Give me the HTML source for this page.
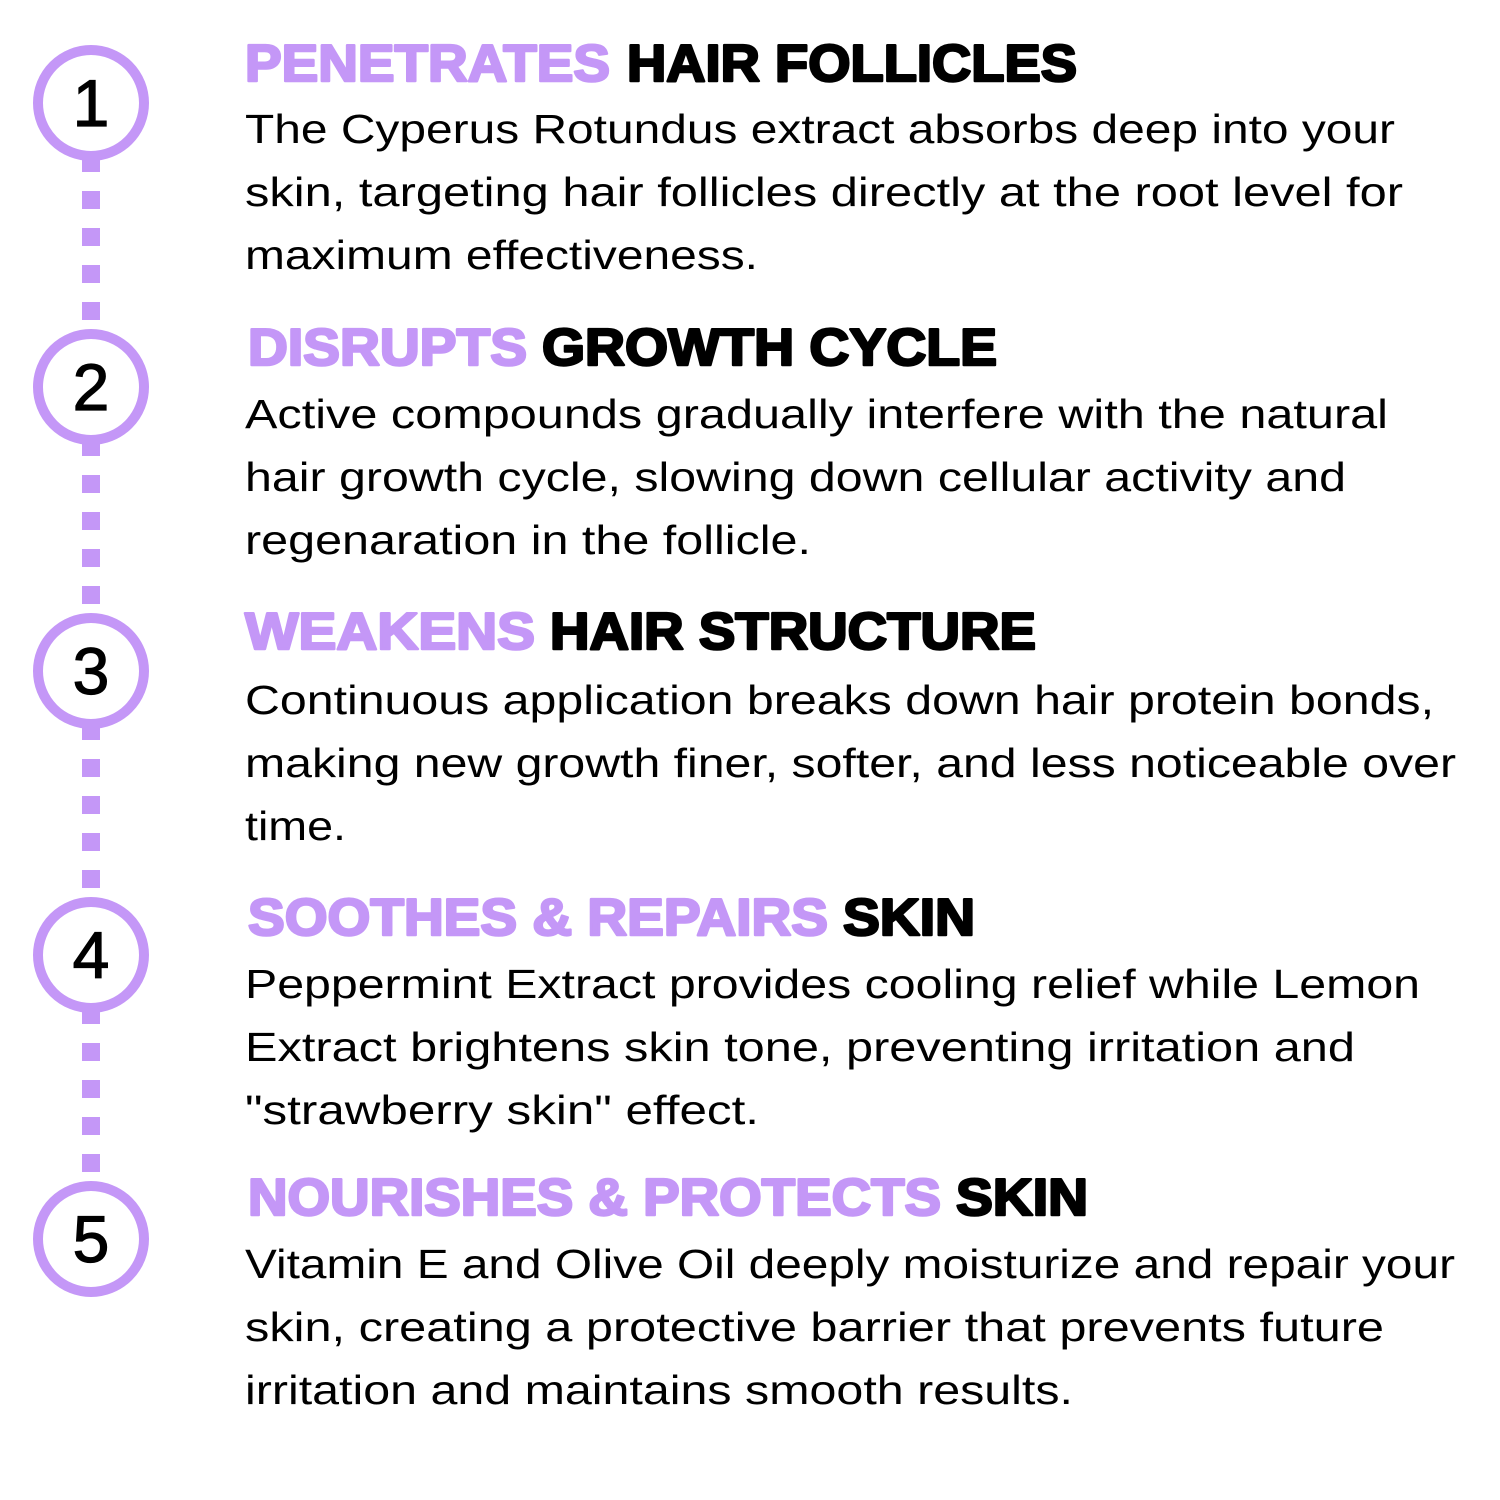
<!DOCTYPE html>
<html><head><meta charset="utf-8"><style>html,body{margin:0;padding:0;background:#fff}svg{display:block}</style></head>
<body>
<svg width="1500" height="1500" viewBox="0 0 1500 1500" xmlns="http://www.w3.org/2000/svg">
<g stroke="#c497f7" stroke-width="18" stroke-dasharray="18 19">
<line x1="91" y1="154" x2="91" y2="330"/>
<line x1="91" y1="438" x2="91" y2="614"/>
<line x1="91" y1="722" x2="91" y2="898"/>
<line x1="91" y1="1006" x2="91" y2="1182"/>
</g>
<g fill="#fff" stroke="#c497f7" stroke-width="10">
<circle cx="91" cy="103" r="53"/><circle cx="91" cy="387" r="53"/><circle cx="91" cy="671" r="53"/><circle cx="91" cy="955" r="53"/><circle cx="91" cy="1239" r="53"/>
</g>
<g font-family="Liberation Sans, sans-serif" font-size="66" text-anchor="middle" fill="#000" stroke="#000" stroke-width="1.2">
<text x="91" y="126">1</text><text x="91" y="410">2</text><text x="91" y="694">3</text><text x="91" y="978">4</text><text x="91" y="1262">5</text>
</g>
<g font-family="Liberation Sans, sans-serif" font-weight="bold" font-size="52" stroke-width="2.5" stroke-linejoin="round">
<text x="245" y="81" textLength="365" lengthAdjust="spacingAndGlyphs" fill="#c497f7" stroke="#c497f7">PENETRATES</text>
<text x="627" y="81" textLength="450" lengthAdjust="spacingAndGlyphs" stroke="#000">HAIR FOLLICLES</text>
<text x="248" y="365" textLength="279" lengthAdjust="spacingAndGlyphs" fill="#c497f7" stroke="#c497f7">DISRUPTS</text>
<text x="542" y="365" textLength="455" lengthAdjust="spacingAndGlyphs" stroke="#000">GROWTH CYCLE</text>
<text x="245" y="649" textLength="290" lengthAdjust="spacingAndGlyphs" fill="#c497f7" stroke="#c497f7">WEAKENS</text>
<text x="550" y="649" textLength="486" lengthAdjust="spacingAndGlyphs" stroke="#000">HAIR STRUCTURE</text>
<text x="248" y="935" textLength="580" lengthAdjust="spacingAndGlyphs" fill="#c497f7" stroke="#c497f7">SOOTHES &amp; REPAIRS</text>
<text x="843" y="935" textLength="132" lengthAdjust="spacingAndGlyphs" stroke="#000">SKIN</text>
<text x="248" y="1215" textLength="693" lengthAdjust="spacingAndGlyphs" fill="#c497f7" stroke="#c497f7">NOURISHES &amp; PROTECTS</text>
<text x="956" y="1215" textLength="132" lengthAdjust="spacingAndGlyphs" stroke="#000">SKIN</text>
</g>
<g font-family="Liberation Sans, sans-serif" font-size="41" fill="#000">
<text x="245" y="143" textLength="1150" lengthAdjust="spacingAndGlyphs">The Cyperus Rotundus extract absorbs deep into your</text>
<text x="245" y="206" textLength="1158" lengthAdjust="spacingAndGlyphs">skin, targeting hair follicles directly at the root level for</text>
<text x="245" y="269" textLength="513" lengthAdjust="spacingAndGlyphs">maximum effectiveness.</text>
<text x="245" y="428" textLength="1143" lengthAdjust="spacingAndGlyphs">Active compounds gradually interfere with the natural</text>
<text x="245" y="491" textLength="1101" lengthAdjust="spacingAndGlyphs">hair growth cycle, slowing down cellular activity and</text>
<text x="245" y="554" textLength="566" lengthAdjust="spacingAndGlyphs">regenaration in the follicle.</text>
<text x="245" y="714" textLength="1189" lengthAdjust="spacingAndGlyphs">Continuous application breaks down hair protein bonds,</text>
<text x="245" y="777" textLength="1211" lengthAdjust="spacingAndGlyphs">making new growth finer, softer, and less noticeable over</text>
<text x="245" y="840" textLength="101" lengthAdjust="spacingAndGlyphs">time.</text>
<text x="245" y="998" textLength="1175" lengthAdjust="spacingAndGlyphs">Peppermint Extract provides cooling relief while Lemon</text>
<text x="245" y="1061" textLength="1110" lengthAdjust="spacingAndGlyphs">Extract brightens skin tone, preventing irritation and</text>
<text x="245" y="1124" textLength="514" lengthAdjust="spacingAndGlyphs">"strawberry skin" effect.</text>
<text x="245" y="1278" textLength="1210" lengthAdjust="spacingAndGlyphs">Vitamin E and Olive Oil deeply moisturize and repair your</text>
<text x="245" y="1341" textLength="1139" lengthAdjust="spacingAndGlyphs">skin, creating a protective barrier that prevents future</text>
<text x="245" y="1404" textLength="828" lengthAdjust="spacingAndGlyphs">irritation and maintains smooth results.</text>
</g>
</svg>
</body></html>
